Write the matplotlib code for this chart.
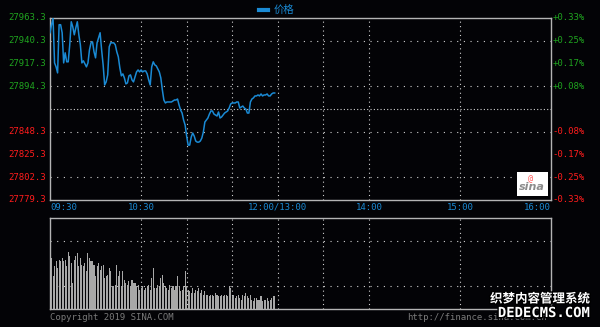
import numpy as np
import matplotlib.pyplot as plt
import matplotlib.patheffects as pe
from matplotlib.lines import Line2D
from matplotlib.patches import Rectangle

plt.rcParams['font.family'] = ['DejaVu Sans Mono', 'Noto Sans CJK SC']

# minute-by-minute price from 09:30
prices = [27948.4, 27956.5, 27962.8, 27917.9, 27913.9, 27907.8, 27956.5, 27956.5, 27948.4, 27917.9,
          27928.1, 27919.0, 27919.0, 27936.2, 27959.5, 27954.4, 27946.3, 27953.4, 27959.5, 27946.3,
          27936.2, 27917.9, 27920.0, 27916.9, 27913.9, 27917.9, 27931.1, 27938.2, 27939.2, 27929.1,
          27923.0, 27938.2, 27943.3, 27948.4, 27931.1, 27915.9, 27895.6, 27898.7, 27905.8, 27934.2,
          27938.2, 27938.2, 27938.2, 27936.2, 27929.1, 27924.0, 27912.9, 27904.8, 27906.8, 27902.7,
          27896.7, 27897.7, 27904.8, 27905.8, 27900.7, 27898.7, 27903.7, 27908.8, 27910.8, 27908.8,
          27910.8, 27908.8, 27909.8, 27909.8, 27906.8, 27900.7, 27895.6, 27913.9, 27919.0, 27915.9,
          27914.9, 27911.9, 27908.8, 27902.7, 27890.6, 27880.4, 27877.4, 27878.4, 27878.4, 27878.4,
          27878.4, 27879.4, 27880.4, 27880.4, 27881.4, 27875.4, 27870.3, 27867.2, 27860.1, 27855.1,
          27843.9, 27834.8, 27834.8, 27842.9, 27847.0, 27843.9, 27838.9, 27837.8, 27837.8, 27838.9,
          27841.9, 27848.0, 27858.1, 27860.1, 27862.2, 27866.2, 27869.3, 27869.3, 27866.2, 27865.2,
          27864.2, 27868.3, 27862.2, 27863.2, 27865.2, 27867.2, 27868.3, 27869.3, 27872.3, 27876.4,
          27877.4, 27877.4, 27877.4, 27878.4, 27878.4, 27872.3, 27873.3, 27874.3, 27872.3, 27871.3,
          27867.2, 27867.2, 27878.4, 27881.4, 27882.5, 27884.5, 27884.5, 27885.5, 27884.5, 27886.5,
          27884.5, 27885.5, 27885.5, 27886.5, 27884.5, 27884.5, 27886.5, 27887.5, 27887.5]

volumes = [48, 51, 33, 43, 48, 41, 49, 48, 51, 48,
           49, 43, 57, 53, 46, 26, 49, 53, 56, 43,
           51, 44, 43, 46, 38, 56, 51, 48, 48, 44,
           33, 43, 46, 39, 43, 44, 31, 33, 34, 41,
           38, 23, 23, 24, 44, 33, 38, 23, 38, 29,
           26, 24, 28, 23, 29, 26, 26, 23, 24, 19,
           21, 23, 19, 21, 23, 24, 19, 31, 41, 21, 21, 24,
           23, 31, 34, 26, 23, 21, 19, 24, 21, 23,
           19, 23, 33, 23, 18, 19, 23, 38, 23, 19,
           18, 16, 21, 16, 19, 18, 21, 16, 19, 14, 18, 14,
           14, 13, 14, 14, 13, 16, 14, 13, 13, 14,
           13, 14, 14, 13, 23, 21, 13, 14, 11, 13, 14, 11,
           9, 14, 13, 16, 13, 11, 14, 9, 8, 11,
           11, 9, 9, 13, 8, 9, 9, 11, 8, 9, 11, 13,
           13]

pre_close = 27871.3
price_ticks = [27963.3, 27940.3, 27917.3, 27894.3, 27848.3, 27825.3, 27802.3, 27779.3]
pct_labels = ['+0.33%', '+0.25%', '+0.17%', '+0.08%', '-0.08%', '-0.17%', '-0.25%', '-0.33%']
time_ticks = [0, 60, 150, 210, 270, 330]
time_labels = ['09:30', '10:30', '12:00/13:00', '14:00', '15:00', '16:00']
grid_minutes = [60, 90, 120, 150, 180, 210, 270]
grid_prices = [27940.3, 27894.3, 27848.3, 27802.3]

bg = '#030306'
blue = '#1a8ad4'
green = '#1fa31f'
red = '#ff1c1c'
frame = '#b4b4b4'

fig = plt.figure(figsize=(6, 3.27), dpi=100, facecolor=bg)
ax = fig.add_axes([50/600, 1-200/327, 501/600, 182/327], facecolor=bg)
axv = fig.add_axes([50/600, 1-309/327, 501/600, 91/327], facecolor=bg)

for a in (ax, axv):
    a.set_xlim(0, 330)
    a.set_xticks([])
    a.set_yticks([])
    for s in a.spines.values():
        s.set_color(frame)
        s.set_linewidth(1)
    for m in grid_minutes:
        a.axvline(m, color='#d0d0d0', lw=0.8, ls=(0, (1, 3)), zorder=1)

ax.set_ylim(27779.3, 27963.3)
for p in grid_prices:
    ax.axhline(p, color='#d0d0d0', lw=0.8, ls=(0, (1, 5)), zorder=1)
ax.axhline(pre_close, color='#d0d0d0', lw=0.8, ls=(0, (1, 2)), zorder=1)

minutes = np.arange(len(prices))
ax.plot(minutes, prices, color=blue, lw=1.1, zorder=3)

# price / percent labels
for p, lab in zip(price_ticks, pct_labels):
    c = green if p > pre_close else red
    ax.text(-0.008, p, f'{p:.1f}', transform=ax.get_yaxis_transform(),
            ha='right', va='center', color=c, fontsize=6.5)
    ax.text(1.003, p, lab, transform=ax.get_yaxis_transform(),
            ha='left', va='center', color=c, fontsize=6.5)

for t, lab in zip(time_ticks, time_labels):
    ha = 'left' if t == 0 else ('right' if t == 330 else 'center')
    ax.text(t, -0.04, lab, transform=ax.get_xaxis_transform(),
            ha=ha, va='center', color=blue, fontsize=6.5)

# sina logo
ax.add_patch(Rectangle((467/501*330, 27779.3 + 4), 31/501*330, 24,
                       facecolor='white', edgecolor='none', zorder=4))
ax.text(482/501*330, 27779.3 + 13, 'sina', color='#8c8c8c', fontsize=8,
        fontweight='bold', style='italic', family='DejaVu Sans',
        ha='center', va='center', zorder=5)
ax.text(480/501*330, 27779.3 + 22, '@', color='#ff6060', fontsize=6,
        ha='center', va='center', zorder=5)

# volume panel
axv.set_ylim(0, 91)
for v in (23, 68):
    axv.axhline(v, color='#d0d0d0', lw=0.8, ls=(0, (1, 5)), zorder=1)
axv.bar(np.arange(len(volumes)), volumes, width=0.7, color='#a8a8a8', zorder=2)

# legend
fig.add_artist(Line2D([259/600, 268/600], [1-10/327, 1-10/327], color=blue, lw=3,
                      transform=fig.transFigure))
fig.text(274/600, 1-10/327, '价格', color=blue, fontsize=7.5,
         family=['Noto Sans CJK SC'], ha='left', va='center')

fig.text(50/600, 1-318/327, 'Copyright 2019 SINA.COM', color='#7a7a7a',
         fontsize=6.5, ha='left', va='center')
fig.text(407/600, 1-318/327, 'http://finance.sina.com.cn', color='#7a7a7a',
         fontsize=6.5, ha='left', va='center')

# watermark
stroke = [pe.withStroke(linewidth=2, foreground='black')]
fig.text(590/600, 1-299/327, '织梦内容管理系统', color='white', fontsize=9,
         family=['Noto Sans CJK SC'], fontweight='bold', ha='right', va='center',
         path_effects=stroke)
fig.text(590/600, 1-313/327, 'DEDECMS.COM', color='white', fontsize=10,
         family=['DejaVu Sans Mono'], fontweight='bold', ha='right', va='center',
         path_effects=stroke)

fig.savefig('out.png', dpi=100, facecolor=bg)
